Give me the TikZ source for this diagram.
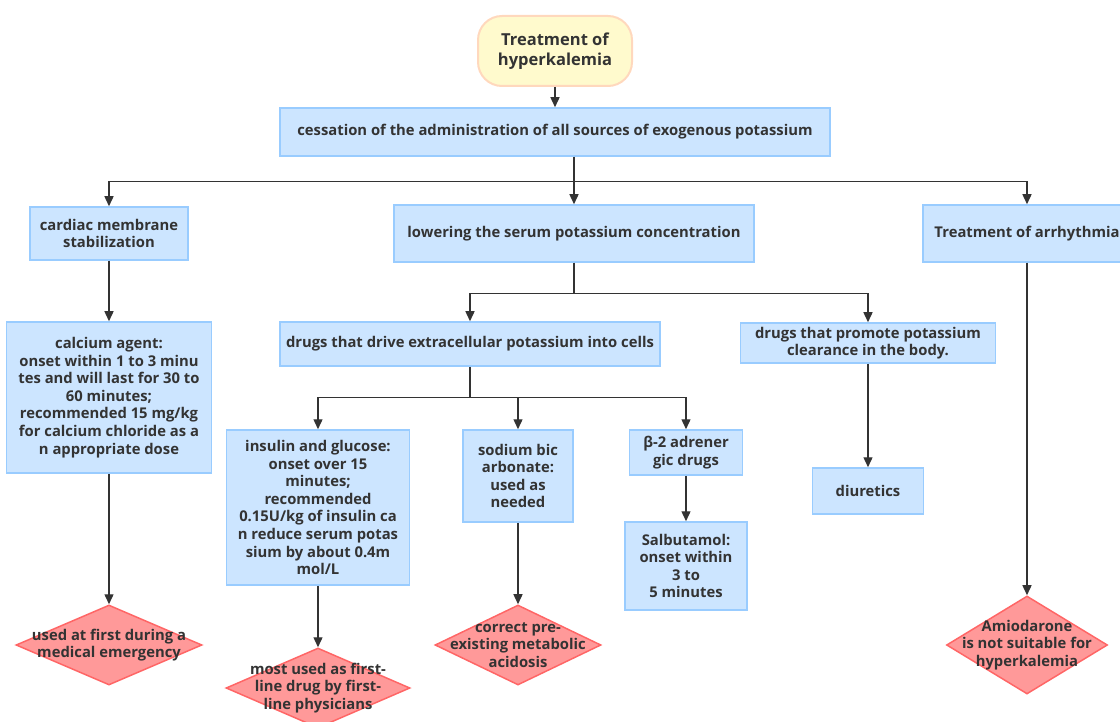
\documentclass[tikz,border=0pt]{standalone}
\usepackage{fontspec}
\setmainfont{Open Sans}
\usepackage{tikz}
\usetikzlibrary{arrows.meta,positioning,shapes.geometric,calc}
\definecolor{boxfill}{HTML}{CCE5FF}
\definecolor{boxline}{HTML}{99CCFF}
\definecolor{diafill}{HTML}{FF9999}
\definecolor{dialine}{HTML}{FF6666}
\definecolor{rootfill}{HTML}{FFFACD}
\definecolor{rootline}{HTML}{FFD8BD}
\definecolor{ink}{HTML}{333333}

\begin{document}
\begin{tikzpicture}[
  x=1pt, y=-1pt,
  txt/.style={font=\bfseries\fontsize{14.8}{17.6}\selectfont, text=ink, align=center},
  box/.style={txt, draw=boxline, fill=boxfill, line width=1.5pt, inner sep=0pt},
  root/.style={txt, font=\bfseries\fontsize{16.5}{20}\selectfont, draw=rootline, fill=rootfill, line width=2pt, rounded corners=24pt, inner sep=0pt},
  dia/.style={diamond, draw=dialine, fill=diafill, line width=1.5pt, inner sep=0pt},
  link/.style={draw=ink, line width=1.4pt},
  arrow/.style={link, -{Triangle[length=10pt, width=9pt]}}
]
  \useasboundingbox (0,0) rectangle (1120,722);

  % Root and first level
  \node[root, minimum width=154pt, minimum height=70pt] (top) at (555,51) {Treatment of\\hyperkalemia};
  \node[box, minimum width=550pt, minimum height=48pt] (cess) at (555,132) {cessation of the administration of all sources of exogenous potassium};

  \node[box, minimum width=158pt, minimum height=53pt] (card) at (109,233.5) {cardiac membrane\\stabilization};
  \node[box, minimum width=360pt, minimum height=57pt] (lower) at (574,233.5) {lowering the serum potassium concentration};
  \node[box, minimum width=208pt, minimum height=57pt] (arrh) at (1027,233.5) {Treatment of arrhythmia};

  % Second level
  \node[box, minimum width=205pt, minimum height=151pt] (calc) at (109,397.5) {calcium agent:\\onset within 1 to 3 minu\\tes and will last for 30 to\\60 minutes;\\recommended 15 mg/kg\\for calcium chloride as a\\n appropriate dose};
  \node[box, minimum width=380pt, minimum height=44pt] (drive) at (470,344) {drugs that drive extracellular potassium into cells};
  \node[box, minimum width=255pt, minimum height=40pt] (clear) at (868,343) {drugs that promote potassium\\clearance in the body.};

  % Third level
  \node[box, minimum width=183pt, minimum height=155pt] (insu) at (318,507.5) {insulin and glucose:\\onset over 15\\minutes;\\recommended\\0.15U/kg of insulin ca\\n reduce serum potas\\sium by about 0.4m\\mol/L};
  \node[box, minimum width=110pt, minimum height=92pt] (soda) at (518,476) {sodium bic\\arbonate:\\used as\\needed};
  \node[box, minimum width=113pt, minimum height=45pt] (beta) at (686,452.5) {β-2 adrener\\gic drugs};
  \node[box, minimum width=122pt, minimum height=88pt] (salb) at (686,566) {Salbutamol:\\onset within\\3 to\\5 minutes};
  \node[box, minimum width=111pt, minimum height=46pt] (diur) at (868,491) {diuretics};

  % Notes in diamonds
  \node[dia, minimum width=186pt, minimum height=80pt] (d1) at (109,645) {};
  \node[txt] (t1) at (d1) {used at first during a\\medical emergency};
  \node[dia, minimum width=184pt, minimum height=80pt] (d2) at (318,688) {};
  \node[txt] (t2) at (d2) {most used as first-\\line drug by first-\\line physicians};
  \node[dia, minimum width=166pt, minimum height=80pt] (d3) at (518,645) {};
  \node[txt] (t3) at (d3) {correct pre-\\existing metabolic\\acidosis};
  \node[dia, minimum width=161pt, minimum height=98pt] (d4) at (1027,645) {};
  \node[txt] (t4) at (d4) {Amiodarone\\is not suitable for\\hyperkalemia};

  % Connectors
  \draw[arrow] (top) -- (cess);
  \draw[arrow] (cess.south -| lower.north) -- (lower.north);
  \coordinate (bus1) at ($(cess.south -| lower.north)+(0,25)$);
  \draw[arrow] (bus1) -| (card.north);
  \draw[arrow] (bus1) -| (arrh.north);

  \draw[link] (lower.south) -- ++(0,31) coordinate (bus2);
  \draw[arrow] (bus2) -| (drive.north);
  \draw[arrow] (bus2) -| (clear.north);

  \draw[link] (drive.south) -- ++(0,31) coordinate (bus3);
  \draw[arrow] (bus3) -| (insu.north);
  \draw[arrow] (bus3) -| (soda.north);
  \draw[arrow] (bus3) -| (beta.north);

  \draw[arrow] (card) -- (calc);
  \draw[arrow] (calc) -- (d1);
  \draw[arrow] (insu) -- (d2);
  \draw[arrow] (soda) -- (d3);
  \draw[arrow] (beta) -- (salb);
  \draw[arrow] (clear) -- (diur);
  \draw[arrow] (arrh) -- (d4);
\end{tikzpicture}
\end{document}
